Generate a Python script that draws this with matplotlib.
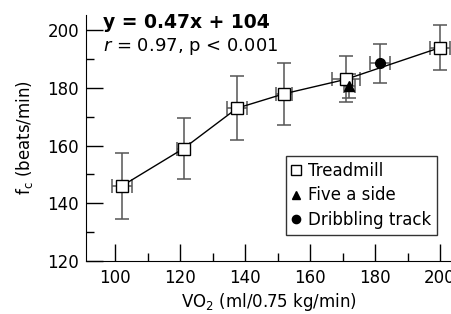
import matplotlib.pyplot as plt
from matplotlib.ticker import MultipleLocator

# Treadmill stages
tread_x = [102, 121, 137.5, 152, 171, 200]
tread_y = [146, 159, 173, 178, 183, 194]
tread_xerr = [3, 2, 3, 2.5, 4.3, 3]
tread_yerr = [11.5, 10.5, 11.2, 10.8, 8, 7.7]

# Five a side
five_x = [172]
five_y = [180.7]
five_xerr = [1.7]
five_yerr = [4]

# Dribbling track
drib_x = [181.5]
drib_y = [188.5]
drib_xerr = [3]
drib_yerr = [6.6]

plt.rcParams['font.family'] = 'DejaVu Sans'

fig = plt.figure(figsize=(4.51, 3.14), dpi=100)
ax = fig.add_axes([0.191, 0.169, 0.809, 0.783])

err_kw = dict(ecolor='#555555', elinewidth=1.1, capsize=5, capthick=1.1, zorder=2)
ax.errorbar(tread_x, tread_y, xerr=tread_xerr, yerr=tread_yerr, fmt='none', **err_kw)
ax.errorbar(five_x, five_y, xerr=five_xerr, yerr=five_yerr, fmt='none', **err_kw)
ax.errorbar(drib_x, drib_y, xerr=drib_xerr, yerr=drib_yerr, fmt='none', **err_kw)

ax.plot(tread_x, tread_y, color='black', lw=1, zorder=3)
ax.plot(tread_x, tread_y, 's', ms=8, mfc='white', mec='black', mew=1,
        linestyle='none', label='Treadmill', zorder=4)
ax.plot(five_x, five_y, '^', ms=7, color='black', linestyle='none',
        label='Five a side', zorder=4)
ax.plot(drib_x, drib_y, 'o', ms=7, color='black', linestyle='none',
        label='Dribbling track', zorder=4)

ax.set_xlim(91, 203.4)
ax.set_ylim(120, 205.3)
ax.xaxis.set_major_locator(MultipleLocator(20))
ax.xaxis.set_minor_locator(MultipleLocator(10))
ax.yaxis.set_major_locator(MultipleLocator(20))
ax.yaxis.set_minor_locator(MultipleLocator(10))
ax.tick_params(which='major', direction='in', length=12, width=1, labelsize=12)
ax.tick_params(which='minor', direction='in', length=6, width=1)
ax.tick_params(axis='x', which='major', pad=6)
ax.tick_params(axis='y', which='major', pad=5)
ax.spines['top'].set_visible(False)
ax.spines['right'].set_visible(False)

ax.set_xlabel('VO$_2$ (ml/0.75 kg/min)', fontsize=12, labelpad=3)
ax.set_ylabel('f$_\\mathregular{c}$ (beats/min)', fontsize=12, labelpad=9)

ax.text(96.2, 202.8, 'y = 0.47x + 104', fontsize=13.5, fontweight='bold', va='center')
ax.text(96.2, 194.5, '$\\it{r}$ = 0.97, p < 0.001', fontsize=13, va='center')

leg = ax.legend(loc='lower right', bbox_to_anchor=(0.962, 0.106), fontsize=12,
                frameon=True, fancybox=False, edgecolor='black', handlelength=0.6,
                handletextpad=0.4, borderpad=0.35, labelspacing=0.4, markerscale=0.85,
                borderaxespad=0)
leg.get_frame().set_linewidth(1)

fig.savefig('out.png', dpi=100)
